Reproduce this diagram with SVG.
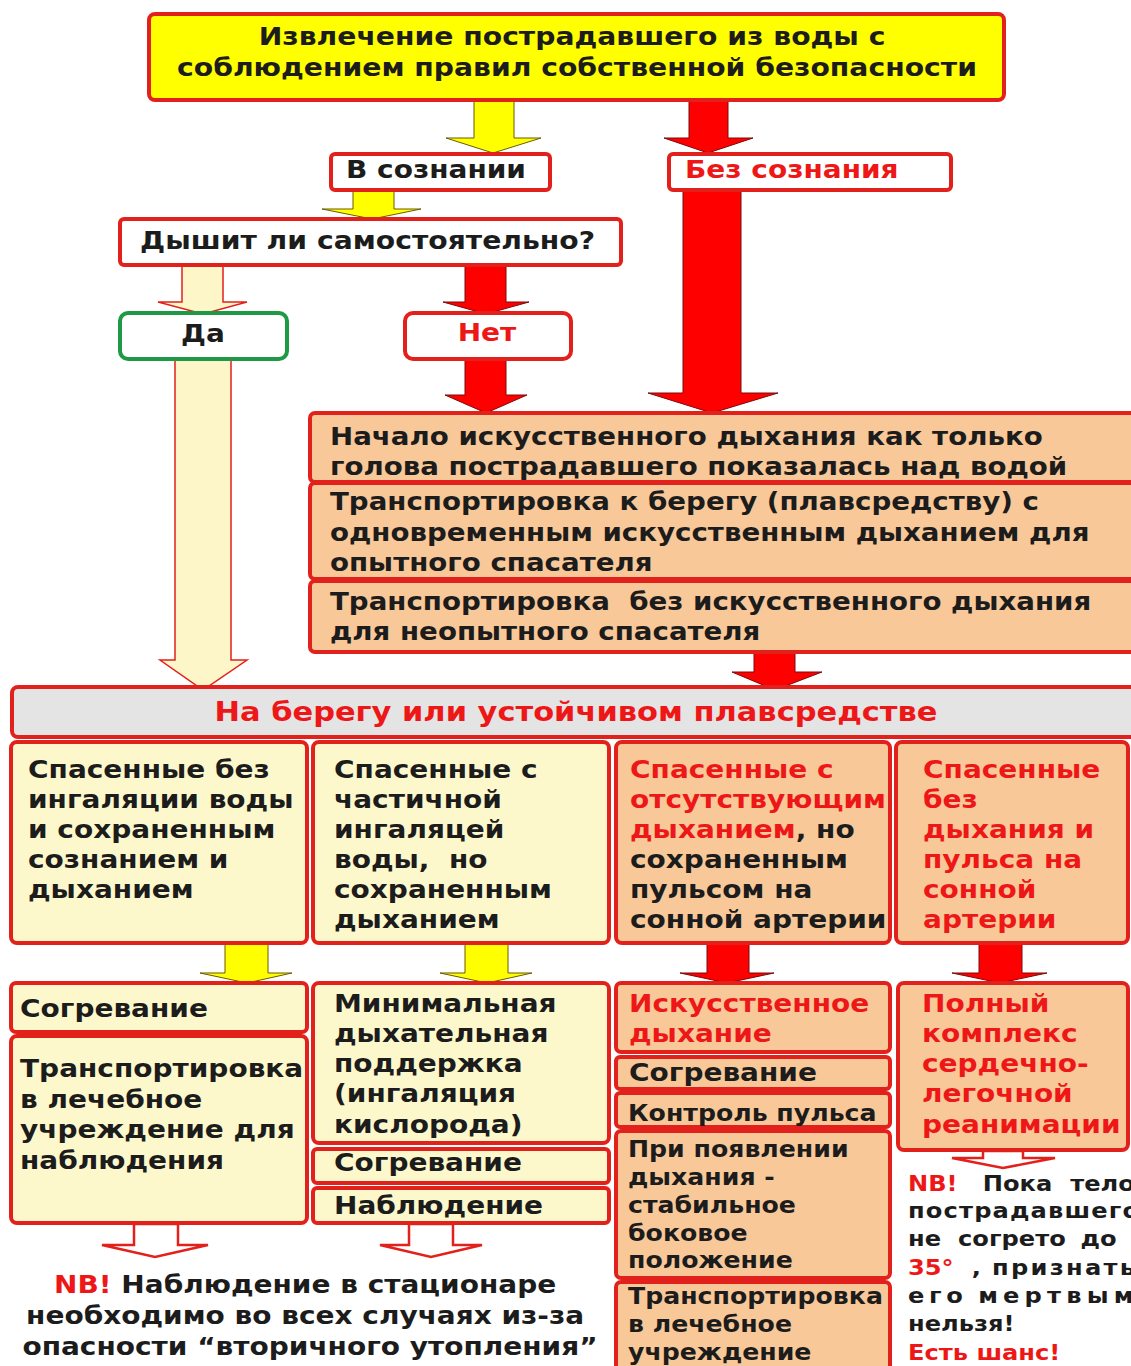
<svg xmlns="http://www.w3.org/2000/svg" width="1131" height="1366" viewBox="0 0 1131 1366">
  <style>
    .bx { stroke: #e2211c; stroke-width: 4; }
    .yel { fill: #ffff00; }
    .wht { fill: #ffffff; }
    .crm { fill: #fdf8cb; }
    .pch { fill: #f9c899; }
    .gry { fill: #e4e4e4; }
    .grn { stroke: #1e9a46; }
    text { font-family: "DejaVu Sans", Verdana, sans-serif; font-weight: bold; font-size: 25px; fill: #1c1c1c; }
    .r { fill: #ee1717; }
    .s21 { font-size: 21px; }
    .s23 { font-size: 22.5px; }
    .s24 { font-size: 24.5px; }
    .s26 { font-size: 26.5px; }
    .a-red { fill: #ff0000; stroke: #7a0a0a; stroke-width: 1; }
    .a-yel { fill: #ffff00; stroke: #6b5a00; stroke-width: 1; }
    .a-lt { fill: #fdf6c9; stroke: #e2211c; stroke-width: 1.5; }
    .a-open { fill: #ffffff; stroke: #e2211c; stroke-width: 2.5; }
  </style>

  <rect width="1131" height="1366" fill="#ffffff"/>

  <!-- block arrows -->
  <g id="connectors">
    <path class="a-yel" d="M474,100 H514 V138 H541 L493,153 L446,138 H474 Z"/>
    <path class="a-red" d="M689,100 H728 V138 H753 L708,153 L664,138 H689 Z"/>
    <path class="a-yel" d="M353,190 H394 V209 H421 L372,219 L322,209 H353 Z"/>
    <path class="a-lt" d="M182,265 H223 V302 H247 L203,314 L158,302 H182 Z"/>
    <path class="a-red" d="M465,265 H506 V302 H529 L486,314 L443,302 H465 Z"/>
    <path class="a-lt" d="M175,359 H231 V660 H247 L203,690 L160,660 H175 Z"/>
    <path class="a-red" d="M465,359 H506 V395 H527 L486,413 L445,395 H465 Z"/>
    <path class="a-red" d="M683,190 H741 V393 H778 L712,413 L648,393 H683 Z"/>
    <path class="a-red" d="M754,653 H795 V672 H822 L775,690 L732,672 H754 Z"/>
    <path class="a-yel" d="M225,943 H268 V973 H292 L247,983 L200,973 H225 Z"/>
    <path class="a-yel" d="M465,943 H508 V973 H532 L487,983 L440,973 H465 Z"/>
    <path class="a-red" d="M707,943 H749 V973 H774 L727,983 L680,973 H707 Z"/>
    <path class="a-red" d="M979,943 H1022 V973 H1047 L1000,983 L952,973 H979 Z"/>
    <path class="a-open" d="M134,1224 H178 V1245 H208 L155,1257 L102,1245 H134 Z"/>
    <path class="a-open" d="M409,1224 H453 V1245 H482 L431,1257 L380,1245 H409 Z"/>
    <path class="a-open" d="M983,1151 H1023 V1158 H1055 L1003,1168 L952,1158 H983 Z"/>
  </g>

  <g id="extraction">
    <rect class="bx yel" x="149" y="14" width="855" height="86" rx="6"/>
    <text transform="matrix(1.13 0 0 1 577 0)" text-anchor="middle">
      <tspan x="0" y="45">Извлечение пострадавшего из воды с</tspan>
      <tspan x="0" y="76">соблюдением правил собственной безопасности</tspan>
    </text>
  </g>

  <g id="conscious">
    <rect class="bx wht" x="331" y="154" width="219" height="36" rx="4"/>
    <text transform="matrix(1.12 0 0 1 346 0)" x="0" y="178">В сознании</text>
  </g>

  <g id="unconscious">
    <rect class="bx wht" x="669" y="154" width="282" height="36" rx="4"/>
    <text class="r" transform="matrix(1.12 0 0 1 685 0)" x="0" y="178">Без сознания</text>
  </g>

  <g id="breathing-question">
    <rect class="bx wht" x="120" y="219" width="501" height="46" rx="4"/>
    <text transform="matrix(1.13 0 0 1 140 0)" x="0" y="249">Дышит ли самостоятельно?</text>
  </g>

  <g id="yes">
    <rect class="bx wht grn" x="120" y="313" width="167" height="46" rx="8"/>
    <text transform="matrix(1.12 0 0 1 203 0)" x="0" y="342" text-anchor="middle">Да</text>
  </g>

  <g id="no">
    <rect class="bx wht" x="405" y="313" width="166" height="46" rx="8"/>
    <text class="r" transform="matrix(1.12 0 0 1 487 0)" x="0" y="341" text-anchor="middle">Нет</text>
  </g>

  <g id="water-actions">
    <rect class="bx pch" x="310" y="413" width="830" height="69" rx="5"/>
    <rect class="bx pch" x="310" y="483" width="830" height="96" rx="5"/>
    <rect class="bx pch" x="310" y="581" width="830" height="71" rx="5"/>
    <text class="s24" transform="matrix(1.13 0 0 1 330 0)" xml:space="preserve">
      <tspan x="0" y="445">Начало искусственного дыхания как только</tspan>
      <tspan x="0" y="475">голова пострадавшего показалась над водой</tspan>
      <tspan x="0" y="510">Транспортировка к берегу (плавсредству) с</tspan>
      <tspan x="0" y="541">одновременным искусственным дыханием для</tspan>
      <tspan x="0" y="571">опытного спасателя</tspan>
      <tspan x="0" y="610">Транспортировка  без искусственного дыхания</tspan>
      <tspan x="0" y="640">для неопытного спасателя</tspan>
    </text>
  </g>

  <g id="ashore">
    <rect class="bx gry" x="12" y="687" width="1130" height="50" rx="6"/>
    <text class="r s26" transform="matrix(1.15 0 0 1 576 0)" x="0" y="721" text-anchor="middle">На берегу или устойчивом плавсредстве</text>
  </g>

  <g id="group-1">
    <rect class="bx crm" x="11" y="742" width="296" height="201" rx="6"/>
    <text transform="matrix(1.12 0 0 1 28 0)">
      <tspan x="0" y="778">Спасенные без</tspan>
      <tspan x="0" y="808">ингаляции воды</tspan>
      <tspan x="0" y="838">и сохраненным</tspan>
      <tspan x="0" y="868">сознанием и</tspan>
      <tspan x="0" y="898">дыханием</tspan>
    </text>
  </g>

  <g id="group-2">
    <rect class="bx crm" x="313" y="742" width="296" height="201" rx="6"/>
    <text transform="matrix(1.12 0 0 1 334 0)" xml:space="preserve">
      <tspan x="0" y="778">Спасенные с</tspan>
      <tspan x="0" y="808">частичной</tspan>
      <tspan x="0" y="838">ингаляцей</tspan>
      <tspan x="0" y="868">воды,  но</tspan>
      <tspan x="0" y="898">сохраненным</tspan>
      <tspan x="0" y="928">дыханием</tspan>
    </text>
  </g>

  <g id="group-3">
    <rect class="bx pch" x="616" y="742" width="274" height="201" rx="6"/>
    <text transform="matrix(1.12 0 0 1 630 0)">
      <tspan class="r" x="0" y="778">Спасенные с</tspan>
      <tspan class="r" x="0" y="808">отсутствующим</tspan>
      <tspan class="r" x="0" y="838">дыханием</tspan><tspan>, но</tspan>
      <tspan x="0" y="868">сохраненным</tspan>
      <tspan x="0" y="898">пульсом на</tspan>
      <tspan x="0" y="928">сонной артерии</tspan>
    </text>
  </g>

  <g id="group-4">
    <rect class="bx pch" x="896" y="742" width="232" height="201" rx="6"/>
    <text class="r" transform="matrix(1.12 0 0 1 923 0)">
      <tspan x="0" y="778">Спасенные</tspan>
      <tspan x="0" y="808">без</tspan>
      <tspan x="0" y="838">дыхания и</tspan>
      <tspan x="0" y="868">пульса на</tspan>
      <tspan x="0" y="898">сонной</tspan>
      <tspan x="0" y="928">артерии</tspan>
    </text>
  </g>

  <g id="care-1">
    <rect class="bx crm" x="11" y="983" width="296" height="49" rx="5"/>
    <rect class="bx crm" x="11" y="1036" width="296" height="187" rx="6"/>
    <text transform="matrix(1.12 0 0 1 20 0)">
      <tspan x="0" y="1017">Согревание</tspan>
      <tspan x="0" y="1077">Транспортировка</tspan>
      <tspan x="0" y="1108">в лечебное</tspan>
      <tspan x="0" y="1138">учреждение для</tspan>
      <tspan x="0" y="1169">наблюдения</tspan>
    </text>
  </g>

  <g id="care-2">
    <rect class="bx crm" x="313" y="983" width="296" height="160" rx="6"/>
    <rect class="bx crm" x="313" y="1149" width="296" height="34" rx="4"/>
    <rect class="bx crm" x="313" y="1188" width="296" height="35" rx="4"/>
    <text transform="matrix(1.12 0 0 1 334 0)">
      <tspan x="0" y="1012">Минимальная</tspan>
      <tspan x="0" y="1042">дыхательная</tspan>
      <tspan x="0" y="1072">поддержка</tspan>
      <tspan x="0" y="1102">(ингаляция</tspan>
      <tspan x="0" y="1133">кислорода)</tspan>
      <tspan x="0" y="1171">Согревание</tspan>
      <tspan x="0" y="1214">Наблюдение</tspan>
    </text>
  </g>

  <g id="care-3">
    <rect class="bx pch" x="616" y="983" width="274" height="69" rx="5"/>
    <rect class="bx pch" x="616" y="1057" width="274" height="32" rx="4"/>
    <rect class="bx pch" x="616" y="1093" width="274" height="34" rx="4"/>
    <rect class="bx pch" x="616" y="1131" width="274" height="147" rx="5"/>
    <rect class="bx pch" x="616" y="1282" width="274" height="100" rx="5"/>
    <text transform="matrix(1.12 0 0 1 629 0)">
      <tspan class="r" x="0" y="1012">Искусственное</tspan>
      <tspan class="r" x="0" y="1042">дыхание</tspan>
      <tspan x="0" y="1081">Согревание</tspan>
    </text>
    <text class="s23" transform="matrix(1.12 0 0 1 628 0)">
      <tspan x="0" y="1121">Контроль пульса</tspan>
      <tspan x="0" y="1157">При появлении</tspan>
      <tspan x="0" y="1185">дыхания -</tspan>
      <tspan x="0" y="1213">стабильное</tspan>
      <tspan x="0" y="1241">боковое</tspan>
      <tspan x="0" y="1268">положение</tspan>
      <tspan x="0" y="1304">Транспортировка</tspan>
      <tspan x="0" y="1332">в лечебное</tspan>
      <tspan x="0" y="1360">учреждение</tspan>
    </text>
  </g>

  <g id="care-4">
    <rect class="bx pch" x="898" y="983" width="230" height="167" rx="6"/>
    <text class="r" transform="matrix(1.12 0 0 1 922 0)">
      <tspan x="0" y="1012">Полный</tspan>
      <tspan x="0" y="1042">комплекс</tspan>
      <tspan x="0" y="1072">сердечно-</tspan>
      <tspan x="0" y="1102">легочной</tspan>
      <tspan x="0" y="1133">реанимации</tspan>
    </text>
  </g>

  <g id="note-hospital">
    <text transform="matrix(1.12 0 0 1 310 0)" text-anchor="middle">
      <tspan x="0" y="1293"><tspan class="r">NB!</tspan> Наблюдение в стационаре</tspan>
      <tspan x="0" y="1324">необходимо во всех случаях из-за</tspan>
      <tspan x="0" y="1355">опасности “вторичного утопления”</tspan>
    </text>
  </g>

  <g id="note-warming">
    <text class="s21" transform="matrix(1.15 0 0 1 908 0)">
      <tspan class="r" x="0" y="1191">NB!</tspan>
      <tspan x="65" y="1191">Пока</tspan>
      <tspan x="141" y="1191">тело</tspan>
      <tspan x="0" y="1218" letter-spacing="1">пострадавшего</tspan>
      <tspan x="0" y="1246">не</tspan>
      <tspan x="43.5" y="1246">согрето</tspan>
      <tspan x="150" y="1246">до</tspan>
      <tspan class="r" x="0" y="1275">35°</tspan>
      <tspan x="55.5" y="1275">,</tspan>
      <tspan x="73" y="1275" letter-spacing="2">признать</tspan>
      <tspan x="0" y="1303" letter-spacing="4">его</tspan>
      <tspan x="61" y="1303" letter-spacing="4.5">мертвым</tspan>
      <tspan x="0" y="1331">нельзя!</tspan>
      <tspan class="r" x="0" y="1360">Есть шанс!</tspan>
    </text>
  </g>
</svg>
